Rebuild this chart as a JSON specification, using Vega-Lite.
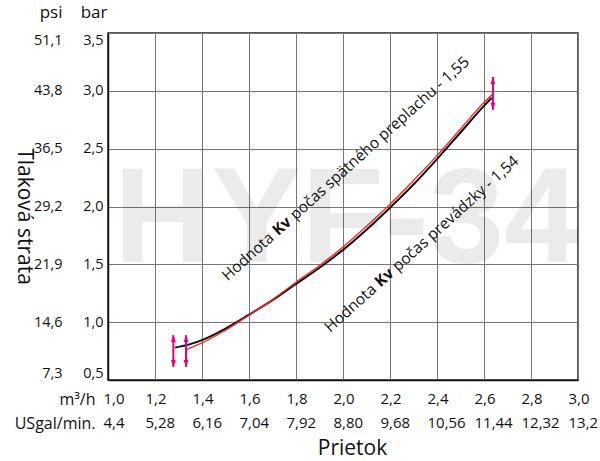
{
  "$schema": "https://vega.github.io/schema/vega-lite/v6.json",
  "width": 470,
  "height": 347,
  "autosize": {"type": "none"},
  "padding": {"left": 108, "top": 33, "right": 22, "bottom": 81},
  "background": "white",
  "title": {"text": "Tlaková strata", "orient": "left", "angle": 90, "baseline": "alphabetic", "font": "Open Sans", "fontSize": 21, "fontWeight": "normal", "color": "#111", "anchor": "middle", "offset": -25, "dx": 10},
  "config": {"view": {"stroke": "#222", "strokeWidth": 1.5}, "font": "Open Sans"},
  "datasets": {
    "wm": [{"t": "HYF-34", "x": 2.015, "y": 1.52}],
    "curves": [
      {"s": "b", "x": 1.285, "y": 0.78}, {"s": "b", "x": 1.35, "y": 0.81}, {"s": "b", "x": 1.4, "y": 0.845}, {"s": "b", "x": 1.5, "y": 0.945},
      {"s": "b", "x": 1.6, "y": 1.065}, {"s": "b", "x": 1.7, "y": 1.19}, {"s": "b", "x": 1.8, "y": 1.33}, {"s": "b", "x": 1.9, "y": 1.47},
      {"s": "b", "x": 2.0, "y": 1.625}, {"s": "b", "x": 2.1, "y": 1.8}, {"s": "b", "x": 2.2, "y": 1.99}, {"s": "b", "x": 2.3, "y": 2.19},
      {"s": "b", "x": 2.4, "y": 2.41}, {"s": "b", "x": 2.5, "y": 2.64}, {"s": "b", "x": 2.6, "y": 2.87}, {"s": "b", "x": 2.633, "y": 2.94},
      {"s": "r", "x": 1.335, "y": 0.765}, {"s": "r", "x": 1.4, "y": 0.82}, {"s": "r", "x": 1.5, "y": 0.93}, {"s": "r", "x": 1.6, "y": 1.06},
      {"s": "r", "x": 1.7, "y": 1.195}, {"s": "r", "x": 1.8, "y": 1.345}, {"s": "r", "x": 1.9, "y": 1.49}, {"s": "r", "x": 2.0, "y": 1.65},
      {"s": "r", "x": 2.1, "y": 1.83}, {"s": "r", "x": 2.2, "y": 2.02}, {"s": "r", "x": 2.3, "y": 2.225}, {"s": "r", "x": 2.4, "y": 2.44},
      {"s": "r", "x": 2.5, "y": 2.67}, {"s": "r", "x": 2.6, "y": 2.9}, {"s": "r", "x": 2.637, "y": 2.97}
    ],
    "arrows": [
      {"x": 1.278, "top": 0.888, "bot": 0.612},
      {"x": 1.332, "top": 0.888, "bot": 0.612},
      {"x": 2.638, "top": 3.12, "bot": 2.836}
    ],
    "labels": [
      {"a": "Hodnota", "k": "Kv", "b": "počas spätného preplachu - 1,55", "x": 1.74, "y": 1.83},
      {"a": "Hodnota", "k": "Kv", "b": "počas prevádzky - 1,54", "x": 2.176, "y": 1.385}
    ]
  },
  "layer": [
    {
      "data": {"name": "wm"},
      "mark": {"type": "text", "font": "Liberation Sans", "fontWeight": "bold", "fontSize": 135, "color": "#000", "opacity": 0.075, "align": "center", "baseline": "alphabetic"},
      "encoding": {
        "x": {"field": "x", "type": "quantitative", "scale": {"domain": [1, 3], "nice": false, "zero": false},
          "axis": {"orient": "bottom", "values": [1, 1.2, 1.4, 1.6, 1.8, 2, 2.2, 2.4, 2.6, 2.8, 3],
            "labelExpr": "[['1,0','4,4'],['1,2','5,28'],['1,4','6,16'],['1,6','7,04'],['1,8','7,92'],['2,0','8,80'],['2,2','9,68'],['2,4','10,56'],['2,6','11,44'],['2,8','12,32'],['3,0','13,2']][round((datum.value-1)*5)]",
            "labelAlign": "left", "labelOffset": {"condition": {"test": "datum.value < 1.1", "value": -5}, "value": -10},
            "labelBaseline": "top", "labelPadding": 11, "labelLineHeight": 24, "labelFontSize": 15, "labelFont": "Open Sans", "labelColor": "#111",
            "labelOverlap": false, "labelBound": false, "labelFlush": false,
            "ticks": false, "tickSize": 0, "domainColor": "#111", "domainWidth": 1.5,
            "grid": true, "gridColor": "#777", "gridWidth": 1,
            "title": "Prietok", "titleFont": "Open Sans", "titleFontSize": 21, "titleFontWeight": "normal", "titleColor": "#111",
            "titleX": 244, "titleY": 74, "titleAlign": "center", "titleBaseline": "alphabetic"}},
        "y": {"field": "y", "type": "quantitative", "scale": {"domain": [0.5, 3.5], "nice": false, "zero": false},
          "axis": {"orient": "left", "values": [0.5, 1, 1.5, 2, 2.5, 3, 3.5],
            "labelExpr": "replace(format(datum.value,'.1f'),'.',',')",
            "labelPadding": 5, "labelFontSize": 14.5, "labelFont": "Open Sans", "labelColor": "#111", "labelFlush": true, "labelFlushOffset": 0,
            "ticks": false, "tickSize": 0, "domainColor": "#111", "domainWidth": 1.5,
            "grid": true, "gridColor": "#777", "gridWidth": 1,
            "title": "bar", "titleAngle": 0, "titleX": -1, "titleY": -16, "titleAlign": "right", "titleBaseline": "alphabetic",
            "titleFont": "Open Sans", "titleFontSize": 17, "titleFontWeight": "normal", "titleColor": "#111"}},
        "text": {"field": "t"}
      }
    },
    {
      "data": {"name": "curves"},
      "mark": {"type": "line", "interpolate": "monotone"},
      "encoding": {
        "x": {"field": "x", "type": "quantitative", "scale": {"domain": [1, 3], "nice": false, "zero": false},
          "axis": {"orient": "bottom", "labels": false, "ticks": false, "tickSize": 0, "domain": false, "grid": false,
            "title": ["m³/h", "USgal/min."], "titleX": -13, "titleY": 11, "titleAlign": "right", "titleBaseline": "top", "titleLineHeight": 24,
            "titleFont": "Open Sans", "titleFontSize": 16, "titleFontWeight": "normal", "titleColor": "#111"}},
        "y": {"field": "y", "type": "quantitative", "scale": {"domain": [0.5, 3.5], "nice": false, "zero": false},
          "axis": {"orient": "left", "values": [0.5, 1, 1.5, 2, 2.5, 3, 3.5],
            "labelExpr": "replace(format(datum.value*14.6,'.1f'),'.',',')",
            "labelPadding": 46, "labelFontSize": 14.5, "labelFont": "Open Sans", "labelColor": "#111", "labelFlush": true, "labelFlushOffset": 0,
            "ticks": false, "tickSize": 0, "domain": false, "grid": false,
            "title": "psi", "titleAngle": 0, "titleX": -46, "titleY": -16, "titleAlign": "right", "titleBaseline": "alphabetic",
            "titleFont": "Open Sans", "titleFontSize": 17, "titleFontWeight": "normal", "titleColor": "#111"}},
        "color": {"field": "s", "type": "nominal", "scale": {"domain": ["b", "r"], "range": ["#111111", "#ee2a24"]}, "legend": null},
        "strokeWidth": {"field": "s", "type": "nominal", "scale": {"domain": ["b", "r"], "range": [2, 1.4]}, "legend": null}
      }
    },
    {
      "data": {"name": "arrows"},
      "mark": {"type": "rule", "color": "#e6007e", "strokeWidth": 2},
      "encoding": {
        "x": {"field": "x", "type": "quantitative", "axis": null},
        "y": {"field": "top", "type": "quantitative", "axis": null},
        "y2": {"field": "bot"}
      }
    },
    {
      "data": {"name": "arrows"},
      "mark": {"type": "point", "shape": "M0,0L0.7,2L-0.7,2Z", "filled": true, "size": 49, "color": "#e6007e", "opacity": 1},
      "encoding": {
        "x": {"field": "x", "type": "quantitative", "axis": null},
        "y": {"field": "top", "type": "quantitative", "axis": null}
      }
    },
    {
      "data": {"name": "arrows"},
      "mark": {"type": "point", "shape": "M0,0L0.7,-2L-0.7,-2Z", "filled": true, "size": 49, "color": "#e6007e", "opacity": 1},
      "encoding": {
        "x": {"field": "x", "type": "quantitative", "axis": null},
        "y": {"field": "bot", "type": "quantitative", "axis": null}
      }
    },
    {
      "data": {"name": "labels"},
      "mark": {"type": "text", "font": "Open Sans", "fontSize": 15.5, "color": "#111", "angle": -42, "align": "right", "baseline": "middle", "dx": -14},
      "encoding": {
        "x": {"field": "x", "type": "quantitative", "axis": null},
        "y": {"field": "y", "type": "quantitative", "axis": null},
        "text": {"field": "a"}
      }
    },
    {
      "data": {"name": "labels"},
      "mark": {"type": "text", "font": "Open Sans", "fontSize": 15.5, "fontWeight": "bold", "color": "#111", "angle": -42, "align": "center", "baseline": "middle"},
      "encoding": {
        "x": {"field": "x", "type": "quantitative", "axis": null},
        "y": {"field": "y", "type": "quantitative", "axis": null},
        "text": {"field": "k"}
      }
    },
    {
      "data": {"name": "labels"},
      "mark": {"type": "text", "font": "Open Sans", "fontSize": 15.5, "color": "#111", "angle": -42, "align": "left", "baseline": "middle", "dx": 14},
      "encoding": {
        "x": {"field": "x", "type": "quantitative", "axis": null},
        "y": {"field": "y", "type": "quantitative", "axis": null},
        "text": {"field": "b"}
      }
    }
  ],
  "resolve": {"axis": {"x": "independent", "y": "independent"}}
}
